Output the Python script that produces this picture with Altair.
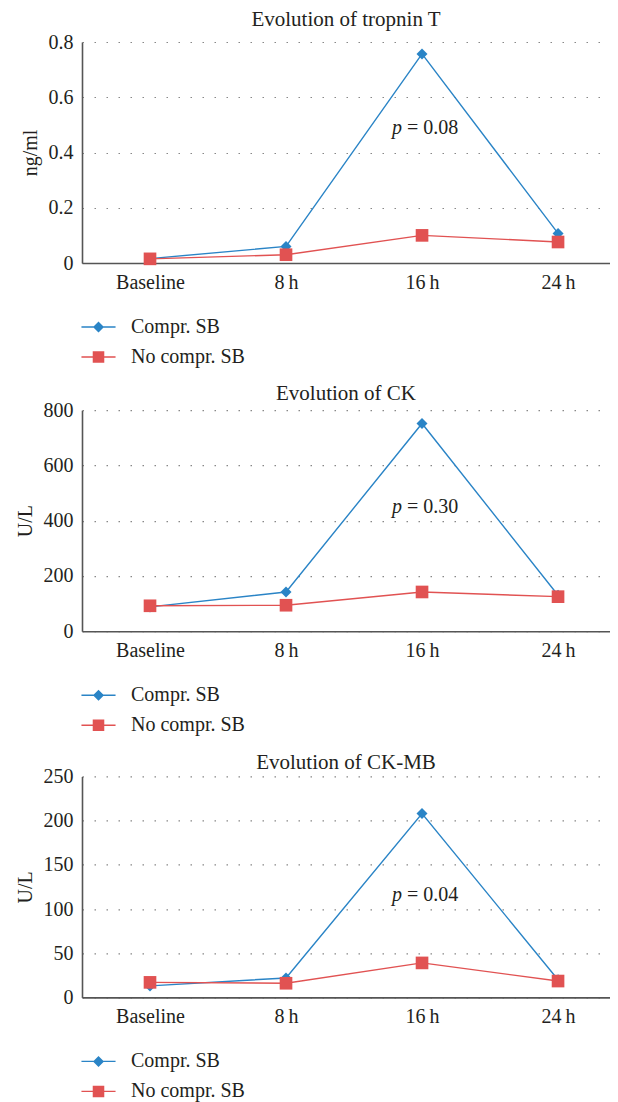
import json
import altair as alt
import pandas as pd

# ---- data ----
times = ["Baseline", "8\u2009h", "16\u2009h", "24\u2009h"]
series = ["Compr. SB", "No compr. SB"]
colors = ["#2A84C6", "#E15252"]

trop_compr = [0.016, 0.060, 0.757, 0.107]
trop_nocompr = [0.015, 0.030, 0.100, 0.076]
ck_compr = [88, 142, 752, 130]
ck_nocompr = [92, 94, 142, 125]
ckmb_compr = [13, 22, 208, 20]
ckmb_nocompr = [17, 16, 39, 18.5]

titles = ["Evolution of tropnin T", "Evolution of CK", "Evolution of CK-MB"]
units = ["ng/ml", "U/L", "U/L"]
y_max = [0.8, 800, 250]
y_ticks = [[0, 0.2, 0.4, 0.6, 0.8], [0, 200, 400, 600, 800], [0, 50, 100, 150, 200, 250]]
p_texts = ["= 0.08", "= 0.30", "= 0.04"]
p_y = [0.49, 450, 116]
title_offsets = [17, 11, 11]
title_dy = [31.7, 32, 34.4]

FONT = "Liberation Serif"
TXT = "#231F20"

# legend symbols: short line with marker (custom paths in unit square coords)
diamond_path = "M-3.1,-0.13H3.1V0.13H-3.1Z M0,-1L1,0L0,1L-1,0Z"
square_path = "M-3.1,-0.13H3.1V0.13H-3.1Z M-1.05,-1.05H1.05V1.05H-1.05Z"

label_expr = json.dumps(times, ensure_ascii=False) + "[datum.value]"


def panel(i, compr, nocompr):
    df = pd.DataFrame({
        "time": times * 2,
        "idx": list(range(len(times))) * 2,
        "series": [series[0]] * len(times) + [series[1]] * len(times),
        "value": compr + nocompr,
    })
    base = alt.Chart(df)
    x = alt.X("idx:Q", title=None,
              scale=alt.Scale(domain=[-0.5, 3.382], nice=False, zero=False),
              axis=alt.Axis(values=list(range(len(times))), labelExpr=label_expr,
                            labelFlush=False, grid=False))
    y = alt.Y("value:Q", title=units[i],
              scale=alt.Scale(domain=[0, y_max[i]], nice=False, zero=True),
              axis=alt.Axis(values=y_ticks[i], format=".2~f"))

    layers = []
    for s, c in zip(series, colors):
        layers.append(base.transform_filter(alt.datum.series == s)
                      .mark_line(strokeWidth=1.4, color=c).encode(x=x, y=y))
    layers.append(base.transform_filter(alt.datum.series == series[0]).mark_point(
        shape="diamond", filled=True, size=121, opacity=1, color=colors[0]).encode(x=x, y=y))
    layers.append(base.transform_filter(alt.datum.series == series[1]).mark_point(
        shape="square", filled=True, size=160, opacity=1, color=colors[1]).encode(x=x, y=y))

    leg = alt.Legend(title=None, orient="none", legendX=6.5, legendY=275,
                     direction="vertical", symbolSize=121, symbolStrokeWidth=0,
                     labelFont=FONT, labelFontSize=20, labelColor=TXT,
                     labelOffset=22.5, rowPadding=10, padding=0, labelLimit=400)
    layers.append(base.transform_filter("false").mark_point(filled=True, opacity=1).encode(
        x=x, y=y,
        color=alt.Color("series:N", scale=alt.Scale(domain=series, range=colors), legend=leg),
        shape=alt.Shape("series:N", scale=alt.Scale(domain=series, range=[diamond_path, square_path]),
                        legend=leg),
    ))

    pdf = pd.DataFrame({"idx": [2], "value": [p_y[i]], "label": [p_texts[i]]})
    pbase = alt.Chart(pdf)
    layers.append(pbase.mark_text(text="p", font=FONT, fontSize=20, fontStyle="italic", color=TXT,
                                  align="left", baseline="middle", dx=-30).encode(x=x, y=y))
    layers.append(pbase.mark_text(font=FONT, fontSize=20, color=TXT, align="left",
                                  baseline="middle", dx=-15).encode(x=x, y=y, text="label:N"))

    return alt.layer(*layers).properties(
        width=528, height=221,
        title=alt.TitleParams(titles[i], offset=title_offsets[i], dy=title_dy[i],
                              baseline="alphabetic", frame="group", anchor="middle"),
    )


p1 = panel(0, trop_compr, trop_nocompr)
p2 = panel(1, ck_compr, ck_nocompr)
p3 = panel(2, ckmb_compr, ckmb_nocompr)

chart = alt.vconcat(p1, p2, p3, spacing=16.2).resolve_scale(
    color="independent", shape="independent"
).resolve_legend(
    color="independent", shape="independent"
).properties(
    padding={"left": 7, "top": 0, "right": 0, "bottom": 0}
).configure_view(stroke=None).configure_axis(
    labelFont=FONT, labelFontSize=20, labelColor=TXT,
    titleFont=FONT, titleFontSize=20, titleFontWeight="normal", titleColor=TXT,
    domainColor="#555555", domainWidth=1.6, ticks=False,
).configure_axisY(
    grid=True, gridDash=[1.5, 10.5], gridColor="#888888", gridWidth=1.2,
    labelPadding=9, titlePadding=8,
).configure_axisX(labelPadding=9).configure_title(
    font=FONT, fontSize=21, fontWeight="normal", color=TXT,
)

chart.save("out.html", embed_options={"renderer": "svg", "actions": False})
